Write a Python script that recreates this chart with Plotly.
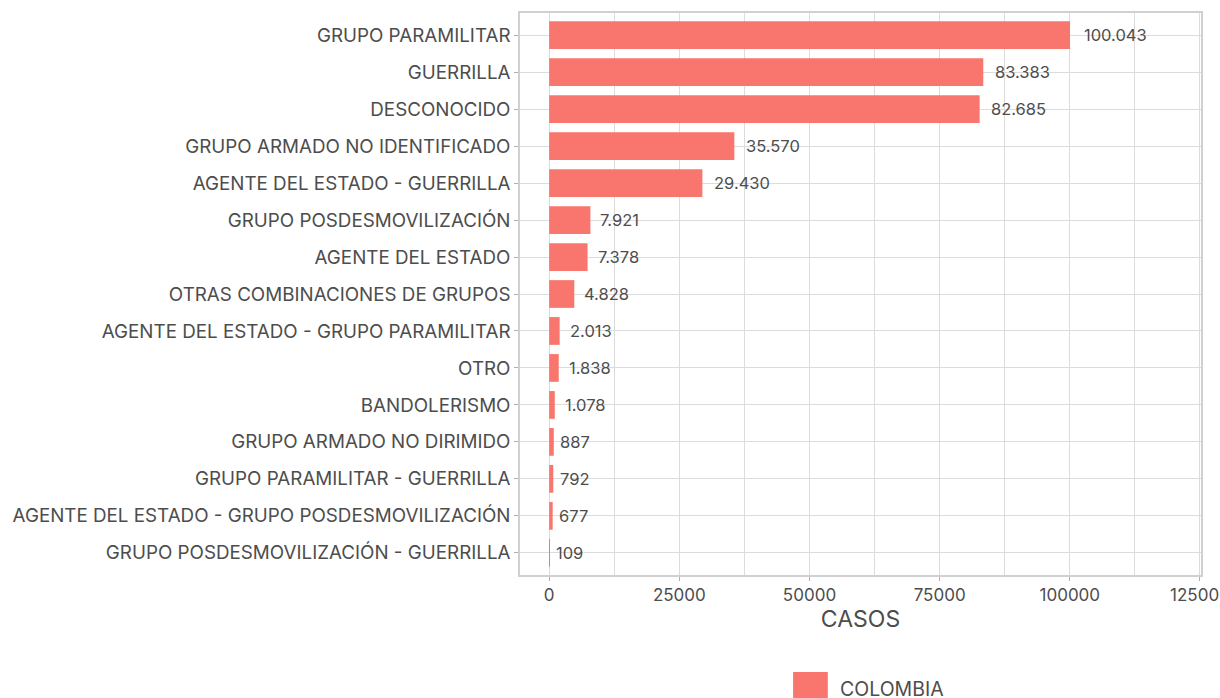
import plotly.graph_objects as go

categories = [
    "GRUPO PARAMILITAR",
    "GUERRILLA",
    "DESCONOCIDO",
    "GRUPO ARMADO NO IDENTIFICADO",
    "AGENTE DEL ESTADO - GUERRILLA",
    "GRUPO POSDESMOVILIZACIÓN",
    "AGENTE DEL ESTADO",
    "OTRAS COMBINACIONES DE GRUPOS",
    "AGENTE DEL ESTADO - GRUPO PARAMILITAR",
    "OTRO",
    "BANDOLERISMO",
    "GRUPO ARMADO NO DIRIMIDO",
    "GRUPO PARAMILITAR - GUERRILLA",
    "AGENTE DEL ESTADO - GRUPO POSDESMOVILIZACIÓN",
    "GRUPO POSDESMOVILIZACIÓN - GUERRILLA",
]
casos = [100043, 83383, 82685, 35570, 29430, 7921, 7378, 4828, 2013, 1838, 1078, 887, 792, 677, 109]
series_name = "COLOMBIA"
x_ticks = [0, 25000, 50000, 75000, 100000, 125000]

FONT = "Inter"
TXT = "#4d4d4d"
GRID = "#dcdcdc"

def fmt(v):
    return f"{v:,}".replace(",", ".")

fig = go.Figure()
fig.add_trace(go.Bar(
    x=casos, y=categories, orientation="h",
    marker=dict(color="#F8766D", line=dict(width=0)),
    width=0.75, name=series_name, showlegend=False,
    hoverinfo="x+y",
))

for v, c in zip(casos, categories):
    lbl = fmt(v)
    fig.add_annotation(
        x=v, y=c, text=lbl, showarrow=False, xanchor="left", yanchor="middle",
        xshift=0.2 * len(lbl) * 9.0 - 1,
        font=dict(family=FONT, size=16.5, color=TXT),
    )

# manual legend (paper coords relative to plot area)
fig.add_shape(type="rect", xref="paper", yref="paper",
              x0=0.401, x1=0.452, y0=-0.1726, y1=-0.235,
              fillcolor="#F8766D", line=dict(width=0))
fig.add_annotation(xref="paper", yref="paper", x=0.4675, y=-0.203,
                   text=series_name, showarrow=False, xanchor="left", yanchor="middle",
                   font=dict(family=FONT, size=19.5, color=TXT))

fig.update_layout(
    width=1220, height=698,
    margin=dict(l=520, r=19, t=13, b=123),
    paper_bgcolor="white", plot_bgcolor="white",
    font=dict(family=FONT, color=TXT),
    bargap=0.25,
    xaxis=dict(
        range=[-5600, 125200],
        tickvals=x_ticks, ticktext=[str(t) for t in x_ticks],
        tickfont=dict(family=FONT, size=17, color=TXT),
        ticklabeloverflow="allow", automargin=False,
        showgrid=True, gridcolor=GRID, gridwidth=1,
        minor=dict(dtick=12500, tick0=12500, showgrid=True, gridcolor=GRID, gridwidth=1),
        ticks="outside", ticklen=4, tickcolor="#b0b0b0",
        showline=True, mirror=True, linecolor="#d0d0d0", linewidth=1.5,
        zeroline=False,
        title=dict(text="CASOS", font=dict(family=FONT, size=23, color=TXT), standoff=6),
    ),
    yaxis=dict(
        categoryorder="array", categoryarray=categories[::-1],
        range=[-0.6, 14.6], automargin=False,
        tickfont=dict(family=FONT, size=18.8, color=TXT),
        showgrid=True, gridcolor=GRID, gridwidth=1,
        ticks="outside", ticklen=4, tickcolor="#b0b0b0",
        showline=True, mirror=True, linecolor="#d0d0d0", linewidth=1.5,
        zeroline=False,
    ),
)

fig.write_html("out.html", config={"displayModeBar": False},
               post_script="document.body.style.margin='0';document.body.style.overflow='hidden';")
